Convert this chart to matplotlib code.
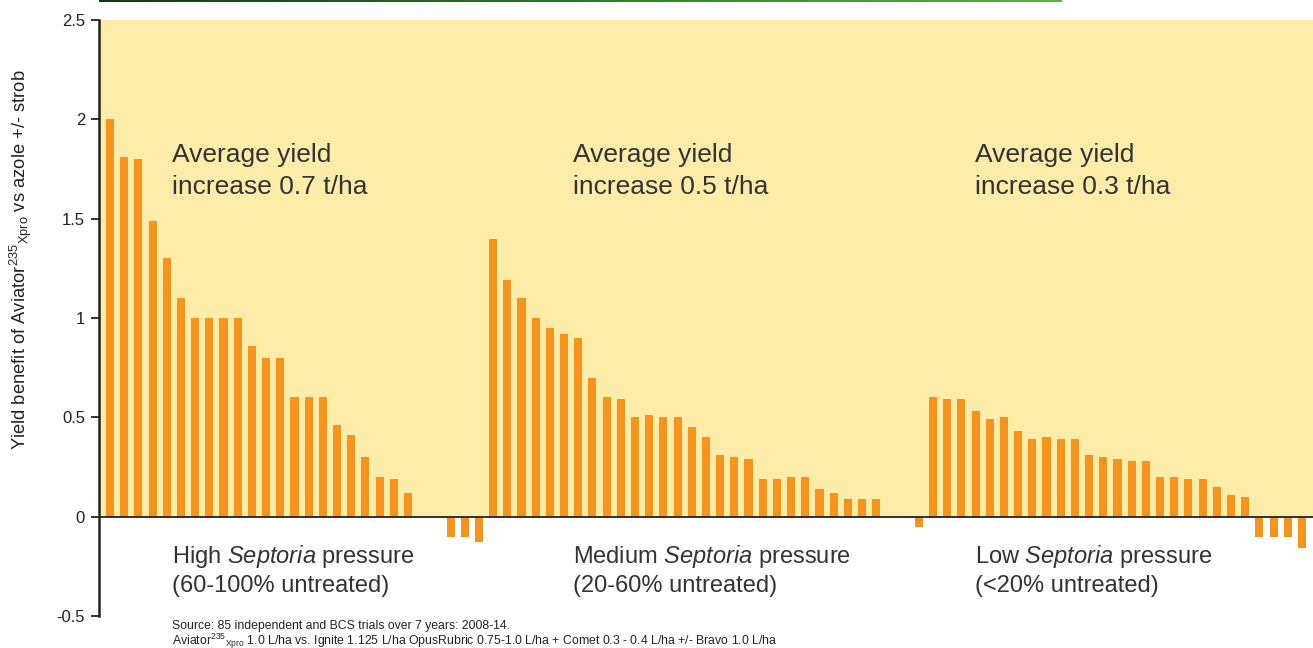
import numpy as np
import matplotlib
matplotlib.use("Agg")
from matplotlib import pyplot as plt

plt.rcParams['font.family'] = ['Liberation Sans', 'DejaVu Sans']
plt.rcParams['mathtext.fontset'] = 'custom'
plt.rcParams['mathtext.rm'] = 'Liberation Sans'
plt.rcParams['mathtext.it'] = 'Liberation Sans:italic'

# yield benefit (t/ha) per trial, sorted within each pressure group
high = [2.0, 1.81, 1.80, 1.49, 1.30, 1.10, 1.0, 1.0, 1.0, 1.0, 0.86, 0.80, 0.80,
        0.60, 0.60, 0.60, 0.46, 0.41, 0.30, 0.20, 0.19, 0.12, 0, 0, -0.10, -0.10, -0.13]
medium = [1.40, 1.19, 1.10, 1.00, 0.95, 0.92, 0.90, 0.70, 0.60, 0.59, 0.50, 0.51,
          0.50, 0.50, 0.45, 0.40, 0.31, 0.30, 0.29, 0.19, 0.19, 0.20, 0.20, 0.14,
          0.12, 0.09, 0.09, 0.09, 0, 0, -0.05]
low = [0.60, 0.59, 0.59, 0.53, 0.49, 0.50, 0.43, 0.39, 0.40, 0.39, 0.39, 0.31, 0.30,
       0.29, 0.28, 0.28, 0.20, 0.20, 0.19, 0.19, 0.15, 0.11, 0.10, -0.10, -0.10,
       -0.10, -0.16]

avg_labels = ["Average yield\nincrease 0.7 t/ha",
              "Average yield\nincrease 0.5 t/ha",
              "Average yield\nincrease 0.3 t/ha"]
pressure_labels = [r"High $\mathit{Septoria}$ pressure" + "\n(60-100% untreated)",
                   r"Medium $\mathit{Septoria}$ pressure" + "\n(20-60% untreated)",
                   r"Low $\mathit{Septoria}$ pressure" + "\n(<20% untreated)"]
label_x = [4.37, 32.63, 60.96]

yticks = [-0.5, 0, 0.5, 1, 1.5, 2, 2.5]
ytick_labels = ["-0.5", "0", "0.5", "1", "1.5", "2", "2.5"]

values = high + medium + low
x = np.arange(len(values))

yellow = '#FEEDA8'
orange = '#F7941E'
dark = '#222222'
textc = '#333333'

fig = plt.figure(figsize=(13.13, 6.48), dpi=100)
ax = fig.add_axes([99 / 1313, 1 - 616 / 648, 1 - 99 / 1313, (616 - 20) / 648])

ax.axhspan(0, 2.5, color=yellow, zorder=0, lw=0)
ax.bar(x, values, width=0.57, color=orange, zorder=2)
ax.axhline(0, color=dark, lw=1.3, zorder=3)

ax.set_xlim(-0.775, 84.78)
ax.set_ylim(-0.5, 2.5)
ax.set_xticks([])
ax.set_yticks(yticks)
ax.set_yticklabels(ytick_labels)
ax.tick_params(axis='y', direction='out', length=6, width=1.3, color=dark,
               labelsize=12, labelcolor=dark, pad=4)
for s in ['top', 'right', 'bottom']:
    ax.spines[s].set_visible(False)
ax.spines['left'].set_linewidth(1.8)
ax.spines['left'].set_color(dark)

for lx, t1, t2 in zip(label_x, avg_labels, pressure_labels):
    ax.text(lx, 1.88, t1, fontsize=19, color=textc, va='top', ha='left',
            linespacing=1.4, zorder=4)
    ax.text(lx, -0.135, t2, fontsize=17, color=textc, va='top', ha='left',
            linespacing=1.25, zorder=4)

fig.text(21 / 1313, 1 - 260 / 648,
         r"Yield benefit of Aviator$^{235}{}_{\mathrm{Xpro}}$ vs azole +/- strob",
         rotation=90, ha='center', va='center', fontsize=13.2, color=dark)

fig.text(172 / 1313, 1 - 629 / 648,
         "Source: 85 independent and BCS trials over 7 years: 2008-14.",
         fontsize=8.8, color=dark, ha='left', va='baseline')
fig.text(172 / 1313, 1 - 644.5 / 648,
         r"Aviator$^{235}{}_{\mathrm{Xpro}}$ 1.0 L/ha vs. Ignite 1.125 L/ha OpusRubric "
         "0.75-1.0 L/ha + Comet 0.3 - 0.4 L/ha +/- Bravo 1.0 L/ha",
         fontsize=8.8, color=dark, ha='left', va='baseline')

# green banner edge at the top
gax = fig.add_axes([99 / 1313, 1 - 2.5 / 648, (1062 - 99) / 1313, 2.5 / 648])
grad = np.linspace(0, 1, 256).reshape(1, -1)
cmap = matplotlib.colors.LinearSegmentedColormap.from_list('g', ['#0f3a14', '#2f7a2a', '#62b046'])
gax.imshow(grad, aspect='auto', cmap=cmap)
gax.axis('off')

fig.savefig('out.png', dpi=100)
